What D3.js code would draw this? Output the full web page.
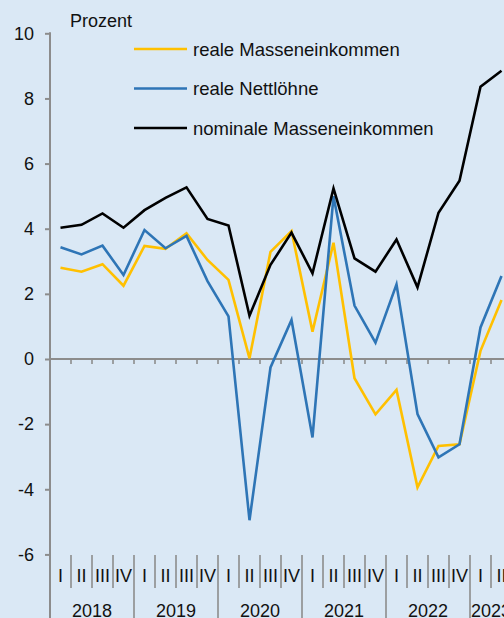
<!DOCTYPE html>
<html><head><meta charset="utf-8">
<script src="https://cdn.jsdelivr.net/npm/d3@7"></script>
<style>
html,body{margin:0;padding:0;background:#dae8f5;}
svg{display:block;}
text{font-family:"Liberation Sans",Arial,sans-serif;fill:#111;}
</style></head><body>
<script>
const years = ["2018","2019","2020","2021","2022","2023"];
const quarterNames = ["I","II","III","IV"];
const seriesNames = ["reale Masseneinkommen","reale Nettlöhne","nominale Masseneinkommen"];
const realeMasse = [2.80,2.68,2.91,2.25, 3.47,3.38,3.86,3.04, 2.43,0.02,3.29,3.93, 0.84,3.57,-0.59,-1.70, -0.95,-3.94,-2.67,-2.62, 0.25,1.81];
const realeNetto = [3.43,3.21,3.48,2.58, 3.96,3.40,3.78,2.39, 1.31,-4.95,-0.26,1.20, -2.41,5.00,1.64,0.50, 2.29,-1.69,-3.02,-2.62, 0.97,2.55];
const nominalMasse = [4.03,4.12,4.47,4.03, 4.57,4.95,5.27,4.30, 4.10,1.33,2.89,3.88, 2.63,5.24,3.09,2.68, 3.67,2.20,4.49,5.47, 8.36,8.85];
const yTicks = [-6,-4,-2,0,2,4,6,8,10];
const colors = ["#ffc000","#2e75b6","#000000"];

const W = 504, H = 618;
const svg = d3.select("body").append("svg").attr("width",W).attr("height",H);
svg.append("rect").attr("width",W).attr("height",H).attr("fill","#dae8f5");

const allQuarters = [];
years.forEach(y => quarterNames.forEach(q => allQuarters.push(y+"-"+q)));
const quarters = allQuarters.slice(0, realeMasse.length);
const x = d3.scaleBand().domain(quarters).range([50, 50+21*quarters.length]);
const y = d3.scaleLinear().domain([-6,10]).range([554.4,33.3]);
const gray = "#8c8c8c";

// left axis
const yAxis = d3.axisLeft(y).tickValues(yTicks).tickSize(5).tickPadding(11).tickFormat(d=>String(d));
const gy = svg.append("g").attr("transform","translate(50,0)").call(yAxis);
gy.select(".domain").remove();
gy.selectAll(".tick line").attr("stroke",gray).attr("stroke-width",2);
gy.selectAll(".tick text").attr("font-size",18).attr("font-family","Liberation Sans, Arial, sans-serif").attr("fill","#111");
svg.append("line").attr("x1",50).attr("x2",50).attr("y1",y(10)-1).attr("y2",H).attr("stroke",gray).attr("stroke-width",2);

// zero line with ticks
svg.append("line").attr("x1",50).attr("x2",W).attr("y1",y(0)).attr("y2",y(0)).attr("stroke",gray).attr("stroke-width",2);
svg.append("g").selectAll("line").data(quarters.slice(1)).join("line")
  .attr("x1",d=>x(d)).attr("x2",d=>x(d)).attr("y1",y(0)).attr("y2",y(0)+5)
  .attr("stroke",gray).attr("stroke-width",1.6);

// bottom category axis
const sepTop = 555;
svg.append("g").selectAll("line").data(quarters.slice(1)).join("line")
  .attr("x1",d=>x(d)).attr("x2",d=>x(d))
  .attr("y1",sepTop)
  .attr("y2",d=>d.endsWith("-I") ? H : 588)
  .attr("stroke",gray).attr("stroke-width",1.6);
svg.append("g").selectAll("text").data(quarters).join("text")
  .attr("x",d=>x(d)+x.bandwidth()/2).attr("y",582)
  .attr("text-anchor","middle").attr("font-size",18)
  .text(d=>d.split("-")[1]);
svg.append("g").selectAll("text").data(years).join("text")
  .attr("x",d=>{
    const qs = quarters.filter(q=>q.startsWith(d));
    return (x(qs[0]) + x(qs[qs.length-1]) + x.bandwidth())/2;
  }).attr("y",617)
  .attr("text-anchor","middle").attr("font-size",18)
  .text(d=>d);

// lines
const line = d3.line().x((d,i)=>x(quarters[i])+x.bandwidth()/2).y(d=>y(d));
[realeMasse, realeNetto, nominalMasse].forEach((s,k)=>{
  svg.append("path").datum(s).attr("d",line).attr("fill","none")
    .attr("stroke",colors[k]).attr("stroke-width",2.6).attr("stroke-linejoin","miter");
});

// Prozent label
svg.append("text").attr("x",70).attr("y",27).attr("font-size",18).text("Prozent");

// legend
const legY = [49,88.5,128];
seriesNames.forEach((n,k)=>{
  svg.append("line").attr("x1",134).attr("x2",187).attr("y1",legY[k]).attr("y2",legY[k])
    .attr("stroke",colors[k]).attr("stroke-width",2.6);
  svg.append("text").attr("x",193).attr("y",legY[k]+6.5).attr("font-size",18.5).text(n);
});
</script>
</body></html>
